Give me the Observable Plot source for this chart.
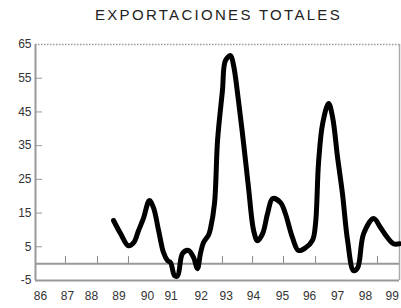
<!DOCTYPE html>
<html>
<head>
<meta charset="utf-8">
<script src="https://cdn.jsdelivr.net/npm/d3@7"></script>
<script src="https://cdn.jsdelivr.net/npm/@observablehq/plot@0.6"></script>
<style>
  html, body { margin: 0; padding: 0; background: #fff; }
  #wrap { width: 401px; height: 308px; overflow: hidden; position: relative; }
  #title { height: 30px; line-height: 30px; text-align: center; font-family: "Liberation Sans", Arial, sans-serif; font-size: 15px; letter-spacing: 2.3px; color: #222; padding-left: 36px; }
  svg { display: block; }
</style>
</head>
<body>
<div id="wrap">
  <div id="title">EXPORTACIONES TOTALES</div>
  <div id="chart"></div>
</div>
<script>
// Time position (fractional year, 86 = 1986) and export growth (%)
const time = [88.69, 88.95, 89.24, 89.43, 89.61, 89.79, 90.01, 90.16, 90.35, 90.53, 90.68, 90.79, 90.94, 91.05, 91.23, 91.45, 91.64, 91.78, 91.89, 92.00, 92.19, 92.26, 92.41, 92.52, 92.70, 92.81, 93.00, 93.11, 93.29, 93.48, 93.66, 93.85, 93.99, 94.18, 94.36, 94.55, 94.84, 95.02, 95.28, 95.50, 95.76, 96.02, 96.13, 96.24, 96.39, 96.61, 96.76, 96.94, 97.12, 97.31, 97.53, 97.68, 97.90, 98.27, 98.52, 98.78, 99.00, 99.22];
const exportaciones = [12.8, 8.9, 5.3, 6.2, 9.8, 13.4, 18.7, 16.6, 9.8, 3.3, 0.9, 0.3, -3.6, -3.6, 3.0, 3.9, 1.8, -1.5, 3.0, 6.2, 8.5, 10.4, 18.0, 36.5, 51.3, 60.2, 61.7, 58.8, 48.4, 35.6, 22.6, 9.8, 6.8, 8.9, 14.8, 19.3, 18.1, 14.8, 7.7, 3.9, 4.7, 7.0, 12.0, 30.0, 41.5, 47.5, 43.3, 31.5, 20.8, 6.8, -2.1, -1.2, 8.9, 13.4, 10.7, 7.7, 5.9, 5.9];

// Axis labels
const yearLabels = ["86", "87", "88", "89", "90", "91", "92", "93", "94", "95", "96", "97", "98", "99"];
const yearLabelPos = [86.0, 86.99, 87.88, 88.89, 89.94, 90.81, 91.92, 92.84, 93.84, 94.91, 95.91, 96.94, 97.97, 98.95];
const zeroTickPos = [86.92, 88.10, 89.24, 92.70, 93.81, 94.95, 96.13, 98.41];
const yTicks = [65, 55, 45, 35, 25, 15, 5, -5];
const yInnerTicks = [55, 45, 35, 25, 15, 5];

const xDomain = [85.816, 99.221];
const yDomain = [-5, 65];
const tickLenX = 0.26;   // inward tick length in years
const tickLenY = 2.1;    // upward tick length in %

const data = time.map((t, i) => ({t, v: exportaciones[i]}));
const font = "'Liberation Sans', Arial, sans-serif";

const chart = Plot.plot({
  width: 401,
  height: 278,
  marginTop: 14,
  marginBottom: 28,
  marginLeft: 35,
  marginRight: 2,
  style: {fontFamily: font, fontSize: "12px", color: "#333", background: "#fff"},
  x: {domain: xDomain, axis: null},
  y: {domain: yDomain, axis: null},
  marks: [
    // frame pieces
    Plot.ruleY([yDomain[1]], {stroke: "#999", strokeWidth: 1.5, strokeDasharray: "1.5,1.5"}),
    Plot.ruleY([yDomain[0]], {stroke: "#999", strokeWidth: 2}),
    Plot.ruleX([xDomain[1]], {stroke: "#aaa", strokeWidth: 1.5}),
    Plot.ruleX([xDomain[0]], {stroke: "#999", strokeWidth: 2}),
    Plot.ruleY([0], {stroke: "#999", strokeWidth: 2}),
    // inner ticks
    Plot.ruleY(yInnerTicks, {x1: xDomain[0], x2: xDomain[0] + tickLenX, stroke: "#999", strokeWidth: 1}),
    Plot.ruleX(zeroTickPos, {y1: 0, y2: tickLenY, stroke: "#888", strokeWidth: 1}),
    // labels
    Plot.text(yTicks, {x: xDomain[0], y: d => d, text: d => String(d), textAnchor: "end", dx: -4, fill: "#333", fontSize: 12}),
    Plot.text(yearLabels, {x: (d, i) => yearLabelPos[i], y: yDomain[0], text: d => d, dy: 16, fill: "#333", fontSize: 12}),
    // series
    Plot.line(data, {x: "t", y: "v", stroke: "#000", strokeWidth: 5, curve: "catmull-rom", strokeLinejoin: "round", strokeLinecap: "round"})
  ]
});
document.getElementById("chart").appendChild(chart);
</script>
</body>
</html>
